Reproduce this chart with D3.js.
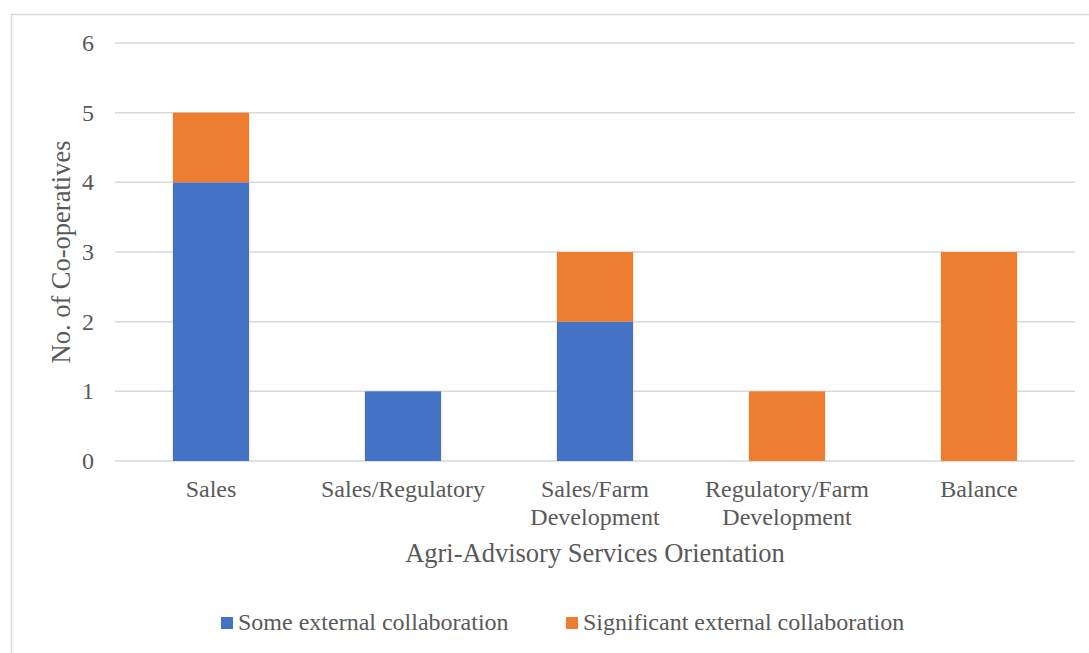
<!DOCTYPE html>
<html><head><meta charset="utf-8">
<script src="https://cdn.jsdelivr.net/npm/d3@7"></script>
<style>body{margin:0;background:#fff}svg{display:block}</style>
</head><body>
<svg id="c" width="1089" height="653"></svg>
<script>
const categories = ["Sales", "Sales/Regulatory", "Sales/Farm Development", "Regulatory/Farm Development", "Balance"];
const categoryLines = [["Sales"], ["Sales/Regulatory"], ["Sales/Farm", "Development"], ["Regulatory/Farm", "Development"], ["Balance"]];
const someExternal = [4, 1, 2, 0, 0];
const significantExternal = [1, 0, 1, 1, 3];
const seriesNames = ["Some external collaboration", "Significant external collaboration"];
const seriesColors = ["#4472C4", "#ED7D31"];
const yTicks = [0, 1, 2, 3, 4, 5, 6];
const xTitle = "Agri-Advisory Services Orientation";
const yTitle = "No. of Co-operatives";

const FONT = "'Liberation Serif', 'Times New Roman', serif";
const svg = d3.select("#c");
// outer chart border
svg.append("rect").attr("x", 11.5).attr("y", 14.5).attr("width", 1100).attr("height", 700)
  .attr("fill", "none").attr("stroke", "#d9d9d9").attr("stroke-width", 1.5);

const x = d3.scaleBand().domain(categories).range([115, 1075]).paddingInner(0.603).paddingOuter(0.3015);
const y = d3.scaleLinear().domain([0, 6]).range([461, 43]);

// gridlines
svg.append("g").selectAll("line").data(yTicks).join("line")
  .attr("x1", 115).attr("x2", 1075).attr("y1", d => y(d)).attr("y2", d => y(d))
  .attr("stroke", "#d9d9d9").attr("stroke-width", 1.5);

const txt = sel => sel.attr("fill", "#595959").style("font-family", FONT);

// y tick labels
svg.append("g").selectAll("text").data(yTicks).join("text")
  .attr("x", 94).attr("y", d => y(d)).attr("dy", "0.34em").attr("text-anchor", "end")
  .style("font-size", "24px").text(d => d).call(txt);

// stacked bars
const rows = categories.map((c, i) => ({cat: c, a: someExternal[i], b: significantExternal[i]}));
const stack = d3.stack().keys(["a", "b"])(rows);
svg.append("g").selectAll("g").data(stack).join("g")
  .attr("fill", (d, i) => seriesColors[i])
  .selectAll("rect").data(d => d.filter(s => s[1] - s[0] > 0)).join("rect")
  .attr("x", d => x(d.data.cat)).attr("width", x.bandwidth())
  .attr("y", d => y(d[1])).attr("height", d => y(d[0]) - y(d[1]));

// category labels
const cl = svg.append("g").selectAll("text").data(categories).join("text")
  .attr("text-anchor", "middle").style("font-size", "24px").call(txt);
cl.each(function(d, i) {
  d3.select(this).selectAll("tspan").data(categoryLines[i]).join("tspan")
    .attr("x", x(d) + x.bandwidth() / 2).attr("y", (t, j) => 497 + j * 28).text(t => t);
});

// axis titles
svg.append("text").attr("x", 595).attr("y", 562).attr("text-anchor", "middle")
  .style("font-size", "26.5px").text(xTitle).call(txt);
svg.append("text").attr("transform", "translate(70," + y(3) + ") rotate(-90)")
  .attr("text-anchor", "middle").style("font-size", "26.5px").text(yTitle).call(txt);

// legend
const legendX = [221, 566];
const lg = svg.append("g").selectAll("g").data(seriesNames).join("g")
  .attr("transform", (d, i) => "translate(" + legendX[i] + ",617)");
lg.append("rect").attr("width", 12).attr("height", 12).attr("fill", (d, i) => seriesColors[i]);
lg.append("text").attr("x", 17).attr("y", 13).style("font-size", "24px").text(d => d).call(txt);
</script>
</body></html>
